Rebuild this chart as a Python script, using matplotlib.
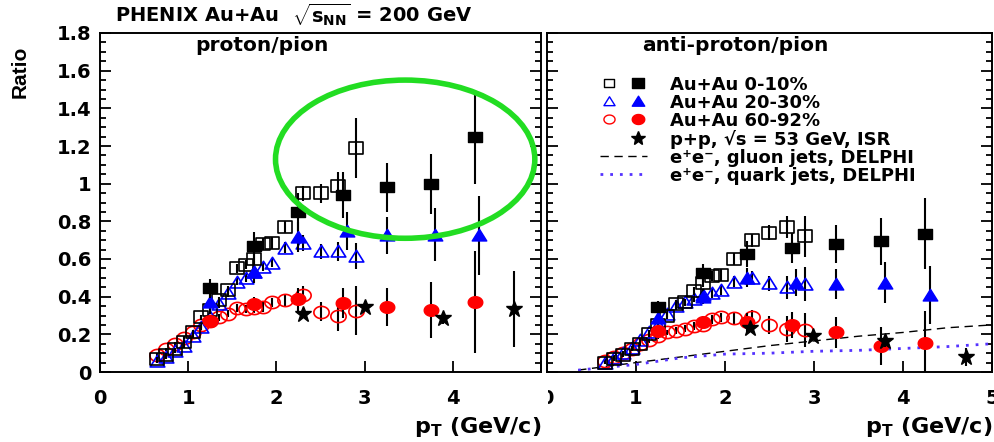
import matplotlib
matplotlib.use('Agg')
import numpy as np
import matplotlib.pyplot as plt
from matplotlib.patches import Ellipse
from matplotlib.lines import Line2D
from matplotlib.path import Path
from matplotlib.legend_handler import HandlerTuple
from matplotlib.transforms import Bbox, TransformedBbox
from matplotlib.ticker import MultipleLocator

plt.rcParams['font.family'] = ['DejaVu Sans']
plt.rcParams['font.weight'] = 'bold'
plt.rcParams['axes.labelweight'] = 'bold'
plt.rcParams['mathtext.fontset'] = 'custom'
plt.rcParams['mathtext.rm'] = 'DejaVu Sans:bold'
plt.rcParams['mathtext.it'] = 'DejaVu Sans:bold'
plt.rcParams['mathtext.bf'] = 'DejaVu Sans:bold'

# ---------------- data ----------------
pt_open = [0.65, 0.75, 0.85, 0.95, 1.05, 1.15, 1.25, 1.35, 1.45, 1.55,
           1.65, 1.75, 1.85, 1.95, 2.1, 2.3, 2.5, 2.7, 2.9]
pt_filled = [1.25, 1.75, 2.25, 2.75, 3.25, 3.75, 4.25]
pt_filled_tri = [1.25, 1.75, 2.25, 2.8, 3.25, 3.8, 4.3]

# proton/pion (left)
p_c0_open = [0.07, 0.09, 0.12, 0.16, 0.21, 0.29, 0.33, 0.38, 0.435, 0.55,
             0.57, 0.60, 0.68, 0.685, 0.77, 0.95, 0.95, 0.99, 1.19]
p_c0_open_err = [0.01, 0.01, 0.01, 0.01, 0.015, 0.015, 0.02, 0.02, 0.02, 0.025,
                 0.025, 0.03, 0.03, 0.03, 0.03, 0.04, 0.05, 0.07, 0.16]
p_c20_open = [0.06, 0.08, 0.11, 0.14, 0.19, 0.24, 0.29, 0.36, 0.42, 0.48,
              0.50, 0.53, 0.56, 0.58, 0.66, 0.685, 0.64, 0.64, 0.615]
p_c20_open_err = [0.01, 0.01, 0.01, 0.01, 0.01, 0.015, 0.015, 0.02, 0.02, 0.02,
                  0.02, 0.025, 0.025, 0.025, 0.03, 0.04, 0.04, 0.05, 0.07]
p_c60_open = [0.09, 0.12, 0.15, 0.18, 0.21, 0.25, 0.27, 0.29, 0.31, 0.34,
              0.335, 0.34, 0.345, 0.37, 0.38, 0.41, 0.32, 0.30, 0.325]
p_c60_open_err = [0.01, 0.01, 0.01, 0.01, 0.01, 0.015, 0.015, 0.02, 0.02, 0.02,
                  0.02, 0.025, 0.025, 0.025, 0.03, 0.045, 0.05, 0.08, 0.13]
p_c0_filled = [0.445, 0.67, 0.85, 0.94, 0.98, 1.00, 1.25]
p_c0_filled_err = [0.05, 0.075, 0.1, 0.12, 0.13, 0.16, 0.25]
p_c20_filled = [0.37, 0.53, 0.715, 0.75, 0.725, 0.73, 0.725]
p_c20_filled_err = [0.04, 0.06, 0.08, 0.1, 0.1, 0.14, 0.21]
p_c60_filled = [0.27, 0.36, 0.385, 0.365, 0.345, 0.33, 0.37]
p_c60_filled_err = [0.02, 0.04, 0.06, 0.08, 0.1, 0.15, 0.27]
pp_pt_left = [2.3, 3.0, 3.89, 4.69]
pp_left = [0.31, 0.345, 0.285, 0.335]
pp_left_err = [0.02, 0.02, 0.03, 0.2]

# anti-proton/pion (right)
a_c0_open = [0.05, 0.07, 0.09, 0.12, 0.15, 0.20, 0.25, 0.30, 0.36, 0.37,
             0.43, 0.475, 0.51, 0.515, 0.60, 0.70, 0.74, 0.77, 0.72]
a_c0_open_err = [0.01, 0.01, 0.01, 0.01, 0.01, 0.015, 0.015, 0.02, 0.02, 0.02,
                 0.02, 0.025, 0.025, 0.03, 0.03, 0.035, 0.04, 0.06, 0.11]
a_c20_open = [0.05, 0.075, 0.10, 0.13, 0.17, 0.21, 0.25, 0.31, 0.35, 0.37,
              0.39, 0.41, 0.42, 0.435, 0.48, 0.50, 0.47, 0.45, 0.465]
a_c20_open_err = [0.01, 0.01, 0.01, 0.01, 0.01, 0.015, 0.015, 0.02, 0.02, 0.02,
                  0.02, 0.02, 0.025, 0.025, 0.03, 0.035, 0.04, 0.06, 0.09]
a_c60_open = [0.06, 0.08, 0.10, 0.12, 0.15, 0.17, 0.19, 0.21, 0.22, 0.23,
              0.245, 0.25, 0.28, 0.29, 0.285, 0.29, 0.25, 0.23, 0.225]
a_c60_open_err = [0.01, 0.01, 0.01, 0.01, 0.01, 0.015, 0.015, 0.015, 0.02, 0.02,
                  0.02, 0.02, 0.025, 0.025, 0.03, 0.04, 0.05, 0.07, 0.09]
a_c0_filled = [0.345, 0.525, 0.625, 0.66, 0.68, 0.695, 0.735]
a_c0_filled_err = [0.03, 0.05, 0.07, 0.08, 0.1, 0.125, 0.19]
a_c20_filled = [0.285, 0.40, 0.50, 0.475, 0.465, 0.475, 0.41]
a_c20_filled_err = [0.03, 0.04, 0.05, 0.07, 0.08, 0.11, 0.155]
a_c60_filled = [0.22, 0.265, 0.265, 0.25, 0.21, 0.137, 0.155]
a_c60_filled_err = [0.02, 0.03, 0.05, 0.07, 0.08, 0.1, 0.17]
pp_pt_right = [2.28, 2.99, 3.8, 4.71]
pp_right = [0.235, 0.19, 0.165, 0.08]
pp_right_err = [0.02, 0.02, 0.03, 0.05]

gluon_pt = [0.35, 1.0, 1.5, 2.0, 2.5, 3.0, 3.5, 4.0, 4.5, 5.0]
gluon = [0.01, 0.05, 0.08, 0.11, 0.14, 0.165, 0.19, 0.21, 0.235, 0.25]
quark_pt = [0.35, 1.0, 1.5, 2.0, 2.5, 3.0, 3.5, 4.0, 4.5, 5.0]
quark = [0.01, 0.04, 0.075, 0.095, 0.10, 0.11, 0.115, 0.125, 0.135, 0.15]

legend_labels = ['Au+Au 0-10%', 'Au+Au 20-30%', 'Au+Au 60-92%',
                 'p+p, \u221as = 53 GeV, ISR',
                 'e\u207ae\u207b, gluon jets, DELPHI',
                 'e\u207ae\u207b, quark jets, DELPHI']

BLUE = '#0000ff'
RED = '#ff0000'

# horizontally stretched marker shapes (the reference is a wide rendering)
SQ = Path([(-1, -0.8), (1, -0.8), (1, 0.8), (-1, 0.8), (-1, -0.8)],
          [Path.MOVETO, Path.LINETO, Path.LINETO, Path.LINETO, Path.CLOSEPOLY])
TRI = Path([(-1, -0.75), (1, -0.75), (0, 0.85), (-1, -0.75)],
           [Path.MOVETO, Path.LINETO, Path.LINETO, Path.CLOSEPOLY])
_t = np.linspace(0, 2 * np.pi, 41)
CIRC = Path(np.column_stack([np.cos(_t), 0.8 * np.sin(_t)]), closed=True)

fig = plt.figure(figsize=(9.95, 4.42), dpi=100)
W, H = 995.0, 442.0
ax1 = fig.add_axes([100 / W, 70 / H, 441 / W, 339 / H])
ax2 = fig.add_axes([547 / W, 70 / H, 445 / W, 339 / H])


def series(ax, x, y, e, marker, color, filled, ms, z):
    ax.errorbar(x, y, yerr=e, fmt='none', ecolor='black', elinewidth=1.5, zorder=z - 1)
    if filled:
        ax.plot(x, y, ls='none', marker=marker, ms=ms, mfc=color, mec=color, mew=1.0, zorder=z)
    else:
        ax.plot(x, y, ls='none', marker=marker, ms=ms, mfc='none', mec=color, mew=1.2, zorder=z)


def panel(ax, c0o, c0oe, c20o, c20oe, c60o, c60oe, c0f, c0fe, c20f, c20fe, c60f, c60fe,
          ppx, pp, ppe):
    series(ax, pt_open, c60o, c60oe, CIRC, RED, False, 11, 3)
    series(ax, pt_open, c20o, c20oe, TRI, BLUE, False, 10.5, 4)
    series(ax, pt_open, c0o, c0oe, SQ, 'black', False, 10.5, 5)
    series(ax, pt_filled, c60f, c60fe, CIRC, RED, True, 10.5, 7)
    series(ax, pt_filled_tri, c20f, c20fe, TRI, BLUE, True, 10.5, 8)
    series(ax, pt_filled, c0f, c0fe, SQ, 'black', True, 9.5, 9)
    series(ax, ppx, pp, ppe, '*', 'black', True, 12, 10)


panel(ax1, p_c0_open, p_c0_open_err, p_c20_open, p_c20_open_err, p_c60_open, p_c60_open_err,
      p_c0_filled, p_c0_filled_err, p_c20_filled, p_c20_filled_err, p_c60_filled, p_c60_filled_err,
      pp_pt_left, pp_left, pp_left_err)
panel(ax2, a_c0_open, a_c0_open_err, a_c20_open, a_c20_open_err, a_c60_open, a_c60_open_err,
      a_c0_filled, a_c0_filled_err, a_c20_filled, a_c20_filled_err, a_c60_filled, a_c60_filled_err,
      pp_pt_right, pp_right, pp_right_err)

ax2.plot(gluon_pt, gluon, color='black', ls=(0, (6, 4)), lw=1.0, zorder=2)
ax2.plot(quark_pt, quark, color='#5533ff', ls=(0, (1, 2.5)), lw=2.0, zorder=2)

for ax in (ax1, ax2):
    ax.set_xlim(0, 5)
    ax.set_ylim(0, 1.8)
    ax.xaxis.set_major_locator(MultipleLocator(1))
    ax.yaxis.set_major_locator(MultipleLocator(0.2))
    ax.yaxis.set_minor_locator(MultipleLocator(0.05))
    ax.tick_params(axis='both', which='both', direction='in', left=True, right=True,
                   top=False, bottom=True, width=1.3, labelsize=14, pad=12)
    ax.tick_params(axis='both', which='major', length=8)
    ax.tick_params(axis='y', which='minor', length=4)
    for s in ax.spines.values():
        s.set_linewidth(1.4)

ax1.set_yticks([0, 0.2, 0.4, 0.6, 0.8, 1.0, 1.2, 1.4, 1.6, 1.8])
ax1.set_yticklabels(['0', '0.2', '0.4', '0.6', '0.8', '1', '1.2', '1.4', '1.6', '1.8'])
ax1.tick_params(axis='y', pad=6)
ax1.set_xticks([0, 1, 2, 3, 4, 5])
ax1.set_xticklabels(['0', '1', '2', '3', '4', ''])
ax2.set_yticklabels([])
ax2.set_xticks([0, 1, 2, 3, 4, 5])
ax2.set_xticklabels(['0', '1', '2', '3', '4', '5'])

# clip the right panel's "0" like in the reference
clipbox = TransformedBbox(Bbox.from_extents(548 / W, 0, 1, 1), fig.transFigure)
for lab in ax2.get_xticklabels():
    lab.set_clip_box(clipbox)
    lab.set_clip_on(True)

xl = r'$\rm p_{T}$ (GeV/c)'
ax1.set_xlabel(xl, loc='right', fontsize=16, labelpad=5, fontweight='bold')
ax2.set_xlabel(xl, loc='right', fontsize=16, labelpad=5, fontweight='bold')

ax1.text(0.367, 0.962, 'proton/pion', transform=ax1.transAxes, ha='center', va='center',
         fontsize=14.5)
ax2.text(0.423, 0.962, 'anti-proton/pion', transform=ax2.transAxes, ha='center', va='center',
         fontsize=14.5)

fig.text(115 / W, 1 - 15 / H, r'PHENIX Au+Au  $\sqrt{\rm s_{NN}}$ = 200 GeV', ha='left',
         va='center', fontsize=14)
fig.text(20 / W, 1 - 72 / H, 'Ratio', rotation=90, ha='center', va='center', fontsize=15,
         family='Liberation Sans', weight='bold')

# highlight ellipse
ax1.add_patch(Ellipse((3.46, 1.13), 2.94, 0.84, fill=False, edgecolor='#22dd22', lw=4,
                      clip_on=False, zorder=20))

# legend
h_empty = Line2D([], [], ls='none', marker=None)
h0 = (Line2D([], [], ls='none', marker=SQ, ms=7.5, mfc='none', mec='black', mew=1.0),
      Line2D([], [], ls='none', marker=SQ, ms=9, mfc='black', mec='black'))
h20 = (Line2D([], [], ls='none', marker=TRI, ms=8, mfc='none', mec=BLUE, mew=1.0),
       Line2D([], [], ls='none', marker=TRI, ms=9, mfc=BLUE, mec=BLUE))
h60 = (Line2D([], [], ls='none', marker=CIRC, ms=8, mfc='none', mec=RED, mew=1.0),
       Line2D([], [], ls='none', marker=CIRC, ms=9, mfc=RED, mec=RED))
hpp = (h_empty, Line2D([], [], ls='none', marker='*', ms=10, mfc='black', mec='black'))
hg = Line2D([], [], color='black', ls=(0, (6, 4)), lw=1.0)
hq = Line2D([], [], color='#5533ff', ls=(0, (1, 2.5)), lw=2.0)
ax2.legend([h0, h20, h60, hpp, hg, hq], legend_labels, loc='upper left',
           bbox_to_anchor=(0.09, 0.911), frameon=False, fontsize=13,
           handler_map={tuple: HandlerTuple(ndivide=None, pad=0.6)},
           handlelength=2.6, handletextpad=1.3, labelspacing=0.0, borderpad=0.2)

fig.savefig('out.png', dpi=100)
